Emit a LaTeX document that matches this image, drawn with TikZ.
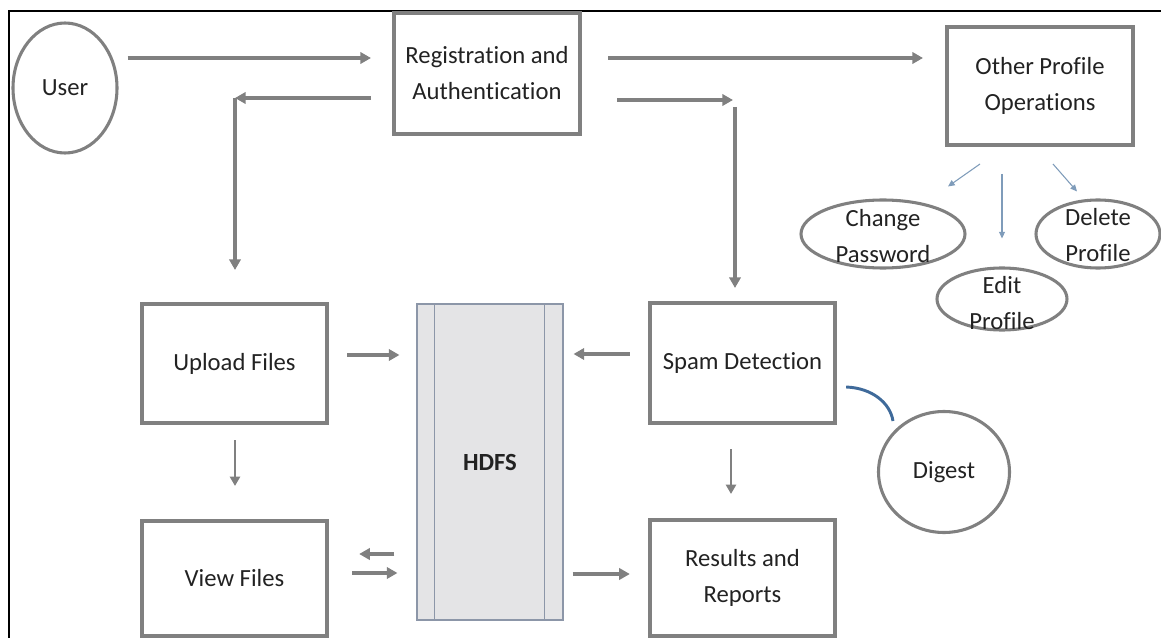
\documentclass[tikz,border=0pt]{standalone}
\usepackage{fontspec}
\setmainfont{Carlito}[Ligatures={NoCommon}]
\usetikzlibrary{arrows.meta,shapes.geometric,calc}
\definecolor{boxgray}{HTML}{808080}
\definecolor{txt}{HTML}{222222}
\definecolor{hdfsfill}{HTML}{E4E4E6}
\definecolor{hdfsline}{HTML}{8C96A8}
\definecolor{thinblue}{HTML}{7F9CBA}
\definecolor{arcblue}{HTML}{3F6A9A}
\tikzset{
  procbox/.style={draw=boxgray, line width=3pt, minimum width=139pt, align=center,
    text=txt, font=\fontsize{18.5}{27}\selectfont, inner sep=0pt},
  ovalnode/.style={draw=boxgray, line width=2.3pt, ellipse, inner sep=0pt, align=center,
    text=txt, font=\fontsize{18.5}{27}\selectfont},
  ovaltext/.style={align=center, text=txt, font=\fontsize{18.5}{27.5}\selectfont, inner sep=0pt},
  arr/.style={draw=boxgray, line width=2.8pt, -{Triangle[length=8pt,width=8.5pt]}},
  arrthin/.style={draw=boxgray, line width=2pt, -{Triangle[length=7pt,width=7.5pt]}},
  bluearr/.style={draw=thinblue, line width=0.8pt, -{Triangle[length=5pt,width=4.5pt]}},
}
\begin{document}
\begin{tikzpicture}[x=0.75pt,y=-0.75pt]
\useasboundingbox (0,0) rectangle (1161,638);
% outer frame (top and left)
\draw[black, line width=1.2pt] (9,638) -- (9,11) -- (1161,11);

% nodes
\node[ovalnode, minimum width=78pt, minimum height=97.5pt] (user) at (65,88) {User};
\node[procbox, minimum width=139.5pt, minimum height=90.75pt] (reg) at (487,73.5) {Registration and\\Authentication};
\node[procbox, minimum width=139.5pt, minimum height=88.5pt] (other) at (1040,86) {Other Profile\\Operations};

\node[ovalnode, minimum width=123pt, minimum height=51pt] (cp) at (883,234) {};
\node[ovaltext] (cpt) at (883,236) {Change\\Password};
\node[ovalnode, minimum width=93pt, minimum height=51pt] (del) at (1098,234) {};
\node[ovaltext] (delt) at (1098,235) {Delete\\Profile};
\node[ovalnode, minimum width=97.5pt, minimum height=46.5pt] (edit) at (1002,299) {};
\node[ovaltext] (editt) at (1002,303) {Edit\\Profile};

\node[procbox, minimum height=89.25pt] (upload) at (234.5,363.5) {Upload Files};
\node[procbox, minimum height=86.25pt] (view) at (234.5,578.5) {View Files};
\node[procbox, minimum height=90pt] (spam) at (742.5,363) {Spam Detection};
\node[procbox, minimum height=87pt] (results) at (742.5,578) {Results and\\Reports};

\node[draw=hdfsline, fill=hdfsfill, line width=0.8pt, minimum width=109.5pt, minimum height=237pt,
  inner sep=0pt] (hdfs) at (490,462) {};
\draw[hdfsline, line width=0.8pt] ($(hdfs.north west)+(18,0)$) -- ($(hdfs.south west)+(18,0)$);
\draw[hdfsline, line width=0.8pt] ($(hdfs.north east)+(-19,0)$) -- ($(hdfs.south east)+(-19,0)$);
\node[text=txt, font=\fontsize{18.5}{22}\selectfont\bfseries, inner sep=0pt] (hdfst) at (hdfs) {HDFS};

\node[ovalnode, minimum width=98.25pt, minimum height=90.75pt] (digest) at (944,472) {Digest};

% connectors
\coordinate (c1) at (235,98);
\coordinate (c2) at (735,100);
\draw[arr] ($(user.east)+(9,-30)$) -- ($(reg.west)+(-21,-15.5)$);
\draw[arr] ($(reg.west)+(-21,24.5)$) -- (c1);
\draw[arr] (c1) -- ($(upload.north)+(0.5,-32)$);
\draw[arr] ($(reg.east)+(26,-15.5)$) -- ($(other.west)+(-22,-28)$);
\draw[arr] ($(reg.east)+(35,26.5)$) -- ($(c2)+(-2,0)$);
\draw[arr] ($(c2)+(0,7)$) -- ($(spam.north)+(-7.5,-13)$);

\draw[arr] ($(upload.east)+(18,-8.5)$) -- ($(hdfs.west)+(-17,-107)$);
\draw[arrthin] ($(upload.south)+(0.5,15)$) -- ($(view.north)+(0.5,-33)$);
\draw[arr] ($(hdfs.west)+(-22,92)$) -- ($(view.east)+(30,-24.5)$);
\draw[arr] ($(view.east)+(23,-5.5)$) -- ($(hdfs.west)+(-19,111)$);
\draw[arr] ($(spam.west)+(-18,-9)$) -- ($(hdfs.east)+(10,-108)$);
\draw[arr] ($(hdfs.east)+(9,112)$) -- ($(results.west)+(-18,-4)$);
\draw[arrthin] ($(spam.south)+(-11.5,24)$) -- ($(results.north)+(-11.5,-24)$);

\draw[bluearr] ($(other.south)+(-60,17)$) -- ($(cp.north)+(65,-12)$);
\draw[bluearr] ($(other.south)+(-38,27)$) -- ($(edit.north)+(0,-28)$);
\draw[bluearr] ($(other.south)+(13,17)$) -- ($(del.north)+(-21,-7)$);

\draw[arcblue, line width=2.2pt] ($(spam.east)+(9,24)$) .. controls ($(spam.east)+(35,25)$) and ($(spam.east)+(53,40)$) .. ($(digest)+(-51,-51)$);
\end{tikzpicture}
\end{document}
